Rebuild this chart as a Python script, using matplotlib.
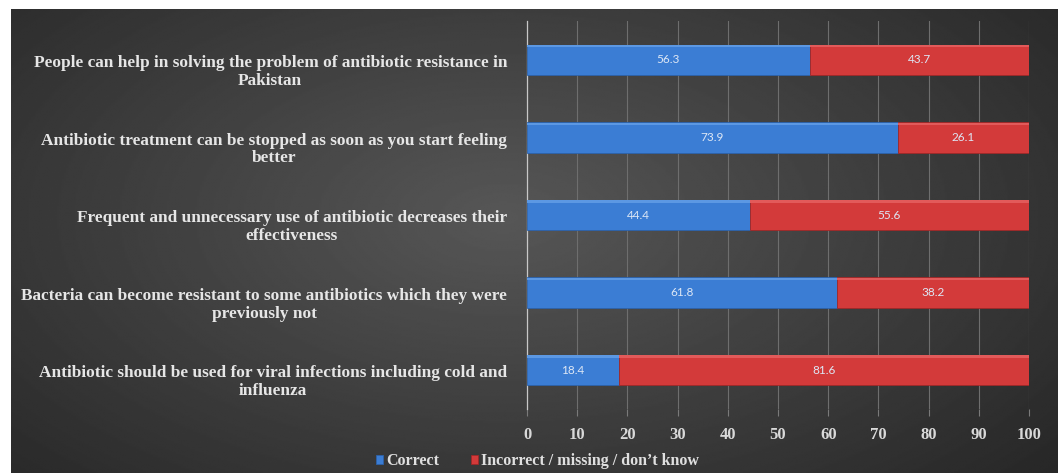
import numpy as np
import matplotlib
matplotlib.use("Agg")
import matplotlib.pyplot as plt

# survey statements, bottom to top as drawn
statements = [
    "Antibiotic should be used for viral infections including cold and\ninfluenza",
    "Bacteria can become resistant to some antibiotics which they were\npreviously not",
    "Frequent and unnecessary use of antibiotic decreases their\neffectiveness",
    "Antibiotic treatment can be stopped as soon as you start feeling\nbetter",
    "People can help in solving the problem of antibiotic resistance in\nPakistan",
]
correct = [18.4, 61.8, 44.4, 73.9, 56.3]
incorrect = [81.6, 38.2, 55.6, 26.1, 43.7]
xticks = [0, 10, 20, 30, 40, 50, 60, 70, 80, 90, 100]
series_names = ["Correct", "Incorrect / missing / don\u2019t know"]

blue = "#3b7dd4"
red = "#d33a3a"
serif = "Liberation Serif"
W, H = 1058, 473

fig = plt.figure(figsize=(W / 100, H / 100), dpi=100)
fig.patch.set_facecolor("white")

# dark radial-ish background panel (leaves a thin white margin top/left)
bg = fig.add_axes([11 / W, 0, 1 - 11 / W, 1 - 9 / H])
bg.set_axis_off()
yy, xx = np.mgrid[0:1:300j, 0:1:600j]
dist = np.sqrt(((xx - 0.47) / 0.75) ** 2 + ((yy - 0.45) / 0.9) ** 2)
shade = np.clip(0.34 - 0.20 * dist, 0.14, 0.36)
bg.imshow(shade, cmap="gray", vmin=0, vmax=1, aspect="auto",
          extent=[0, 1, 0, 1], origin="upper", interpolation="bilinear")

ax = fig.add_axes([527 / W, 1 - 409 / H, (1029 - 527) / W, (409 - 21) / H])
ax.patch.set_alpha(0)

pos = np.arange(len(statements))
bh = 0.39
b1 = ax.barh(pos, correct, height=bh, color=blue, edgecolor="#2c62ab",
             linewidth=0.6, label=series_names[0], zorder=3)
b2 = ax.barh(pos, incorrect, left=correct, height=bh, color=red,
             edgecolor="#a02828", linewidth=0.6, label=series_names[1], zorder=3)
# thin bevel highlight along the top of each bar
ax.barh(pos + bh / 2 - 0.02, correct, height=0.03, color="#5c98e3", linewidth=0, zorder=4)
ax.barh(pos + bh / 2 - 0.02, incorrect, left=correct, height=0.03, color="#e25a5a",
        linewidth=0, zorder=4)

for vals, offs in ((correct, [0] * len(correct)), (incorrect, correct)):
    for p, v, o in zip(pos, vals, offs):
        ax.text(o + v / 2, p, f"{v:.1f}", ha="center", va="center",
                color="#dde7f5", fontsize=8.5, family="Lato", zorder=5)

ax.set_xlim(0, 100)
ax.set_ylim(-0.5, len(statements) - 0.5)
ax.set_xticks(xticks)
ax.set_xticklabels([str(t) for t in xticks], family=serif, fontweight="bold",
                   fontsize=12, color="#d9d9d9")
ax.set_yticks(pos)
ax.set_yticklabels([])
ax.tick_params(axis="y", length=0)
# category labels sit a little below the bar centres in the original
for p, s in zip(pos, statements):
    ax.annotate(s, xy=(0, p), xycoords=ax.get_yaxis_transform(),
                xytext=(-20, -12), textcoords="offset pixels",
                ha="right", va="center", multialignment="center",
                linespacing=1.15, family=serif, fontweight="bold",
                fontsize=12.4, color="#e6e6e6", annotation_clip=False)
ax.tick_params(axis="x", length=5, color="#7a7a7a", pad=8)
ax.grid(axis="x", color="#6e6e6e", linewidth=0.8, zorder=0)
for sp in ("top", "right", "bottom"):
    ax.spines[sp].set_visible(False)
ax.spines["left"].set_color("#c8c8c8")
ax.spines["left"].set_linewidth(0.9)

leg = fig.legend(handles=[b1, b2], labels=series_names, loc="lower center",
                 bbox_to_anchor=(0.508, -0.022), ncol=2, frameon=False,
                 handlelength=0.45, handleheight=0.45, handletextpad=0.2,
                 columnspacing=2.0,
                 prop={"family": serif, "weight": "bold", "size": 11.5})
for t in leg.get_texts():
    t.set_color("#e0e0e0")

fig.savefig("out.png", dpi=100, facecolor="white")
